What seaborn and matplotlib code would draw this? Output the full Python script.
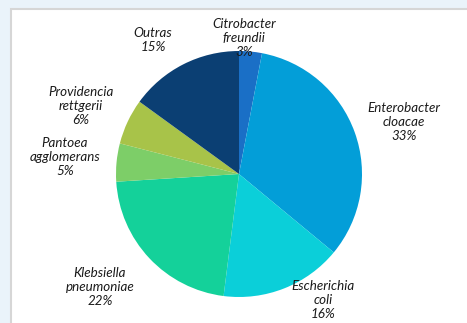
import matplotlib
matplotlib.use("Agg")
import matplotlib.pyplot as plt
from matplotlib.patches import Rectangle
import seaborn as sns

sns.set_theme(style="white")
plt.rcParams['font.family'] = ['Lato', 'DejaVu Sans']

categories = ["Citrobacter\nfreundii", "Enterobacter\ncloacae", "Escherichia\ncoli",
              "Klebsiella\npneumoniae", "Pantoea\nagglomerans", "Providencia\nrettgerii", "Outras"]
values = [3, 33, 16, 22, 5, 6, 15]
colors = ["#1a6fc6", "#039ed8", "#0bcfd9", "#14d19a", "#7dce68", "#a8c349", "#0b3f73"]

# label positions (layout, in pie data units)
label_pos = [(0.04, 1.106), (1.341, 0.423), (0.683, -1.024), (-1.13, -0.919),
             (-1.415, 0.138), (-1.285, 0.553), (-0.699, 1.089)]

W, H = 467, 323
fig = plt.figure(figsize=(W / 100, H / 100), dpi=100, facecolor="#eaf3fa")
fig.patches.append(Rectangle((11 / W, -0.01), 1, 1 - 9 / H + 0.01, transform=fig.transFigure,
                             facecolor="white", edgecolor="#d6d6d6", linewidth=1.5, zorder=-10))

cx, cy, r = 239, 174, 123
ax = fig.add_axes([(cx - r) / W, (H - cy - r) / H, 2 * r / W, 2 * r / H])
ax.set_zorder(5)
ax.set_facecolor("none")
ax.pie(values, colors=colors, startangle=90, counterclock=False, radius=1,
       wedgeprops=dict(linewidth=0))
ax.set_xlim(-1, 1)
ax.set_ylim(-1, 1)
ax.set_aspect("auto")
ax.axis("off")

for cat, v, (x, y) in zip(categories, values, label_pos):
    ax.text(x, y, f"{cat}\n{v}%", ha="center", va="center", fontsize=9.6,
            fontstyle="italic", color="#1a1a1a", linespacing=1.22, zorder=5)

fig.savefig("out.png", dpi=100, facecolor=fig.get_facecolor())
